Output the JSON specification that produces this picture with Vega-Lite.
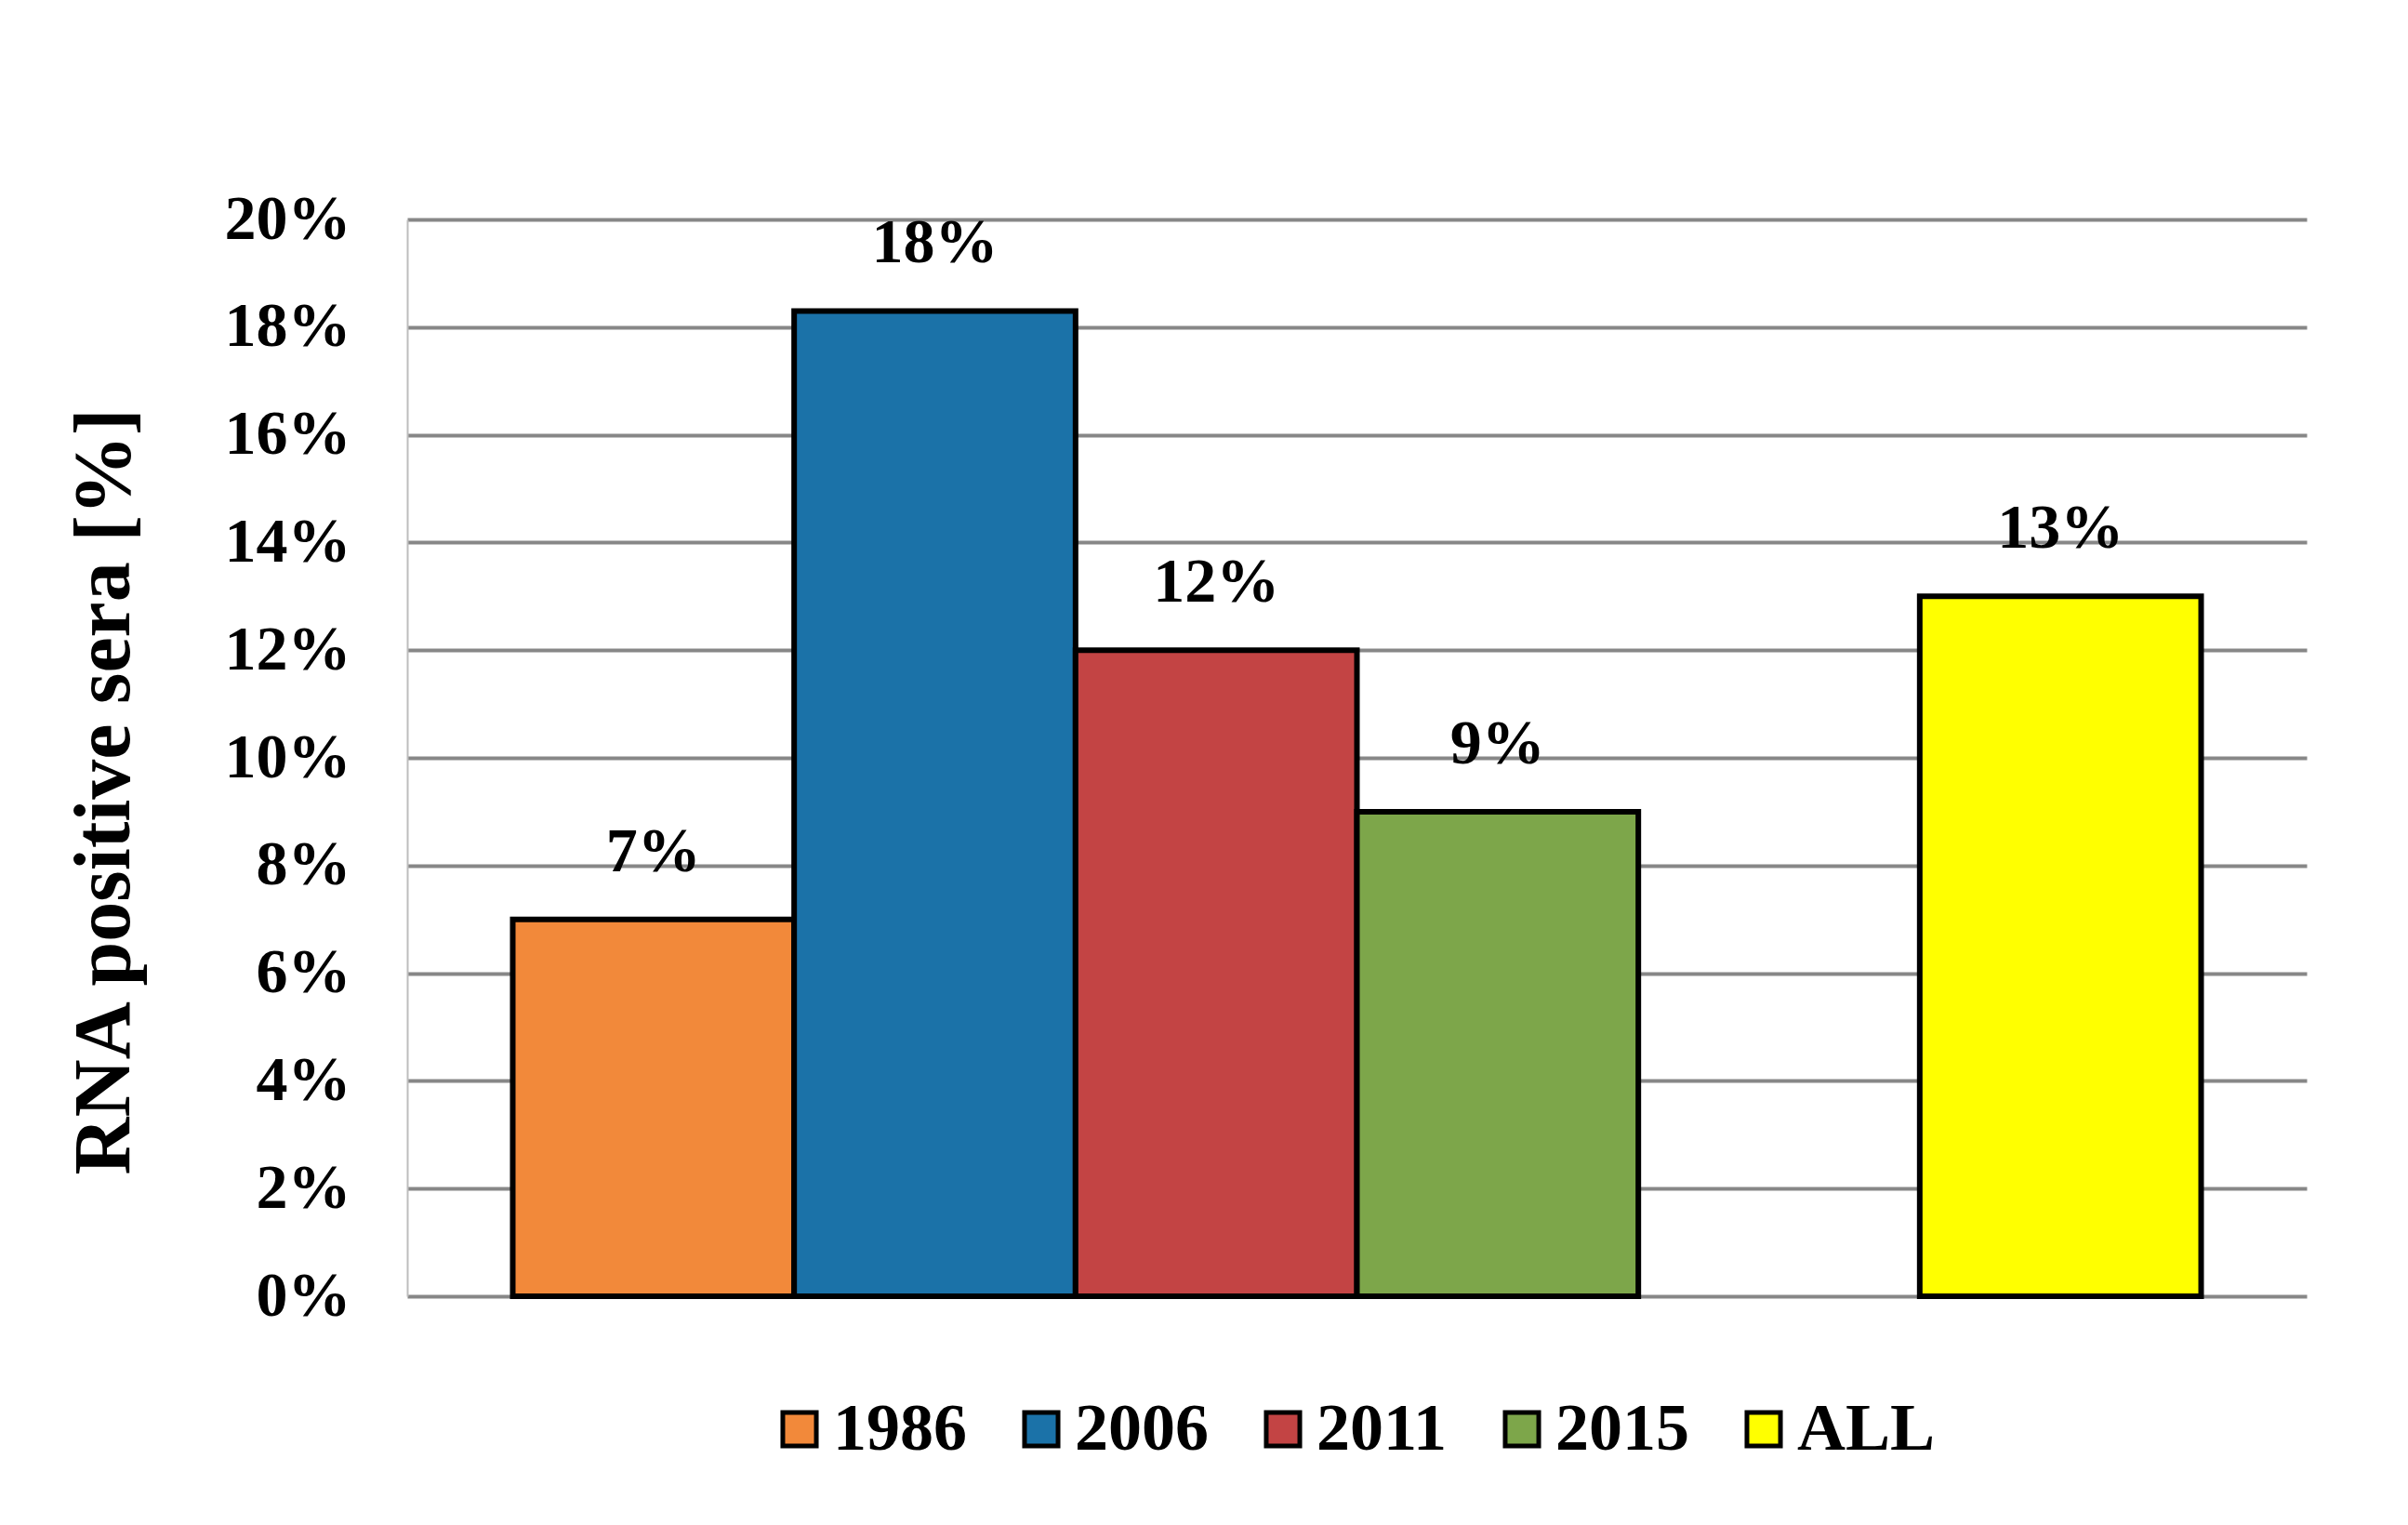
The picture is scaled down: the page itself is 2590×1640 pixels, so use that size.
{
  "$schema": "https://vega.github.io/schema/vega-lite/v6.json",
  "width": 2043,
  "height": 1158,
  "autosize": {"type": "none"},
  "padding": {"left": 438, "top": 236, "right": 109, "bottom": 246},
  "background": "white",
  "config": {"view": {"stroke": null}},
  "data": {
    "values": [
      {"year": "1986", "share": 0.07},
      {"year": "2006", "share": 0.183},
      {"year": "2011", "share": 0.12},
      {"year": "2015", "share": 0.09},
      {"year": "ALL", "share": 0.13}
    ]
  },
  "encoding": {
    "x": {
      "field": "year",
      "type": "nominal",
      "scale": {"domain": ["1986", "2006", "2011", "2015", " ", "ALL"], "paddingInner": 0, "paddingOuter": 0.375},
      "axis": null
    },
    "y": {
      "field": "share",
      "type": "quantitative",
      "scale": {"domain": [0, 0.2], "nice": false},
      "axis": {
        "title": "RNA positive sera [%]",
        "titleFont": "Liberation Serif",
        "titleFontSize": 86,
        "titleFontWeight": "bold",
        "titleColor": "black",
        "titleAngle": -90,
        "titleX": -326,
        "titleY": 615,
        "titleAlign": "center",
        "titleBaseline": "middle",
        "labelFont": "Liberation Serif",
        "labelFontSize": 68,
        "labelFontWeight": "bold",
        "labelColor": "black",
        "labelPadding": 61,
        "ticks": false,
        "values": [0, 0.02, 0.04, 0.06, 0.08, 0.1, 0.12, 0.14, 0.16, 0.18, 0.2],
        "format": ".0%",
        "grid": true,
        "gridColor": "#878787",
        "gridWidth": 4,
        "domainColor": "#bdbdbd",
        "domainWidth": 2
      }
    }
  },
  "layer": [
    {
      "mark": {"type": "bar", "stroke": "black", "strokeWidth": 6},
      "encoding": {
        "color": {
          "field": "year",
          "type": "nominal",
          "scale": {
            "domain": ["1986", "2006", "2011", "2015", "ALL"],
            "range": ["#F2893A", "#1B72A8", "#C34444", "#7DA64A", "#FFFF00"]
          },
          "legend": {
            "orient": "none",
            "legendX": 386,
            "legendY": 1265,
            "direction": "horizontal",
            "title": null,
            "symbolType": "square",
            "symbolSize": 1300,
            "symbolStrokeColor": "black",
            "symbolStrokeWidth": 5,
            "symbolOpacity": 1,
            "labelFont": "Liberation Serif",
            "labelFontSize": 72,
            "labelFontWeight": "bold",
            "labelColor": "black",
            "labelOffset": 0,
            "columnPadding": 44
          }
        }
      }
    },
    {
      "mark": {
        "type": "text",
        "dy": -72,
        "font": "Liberation Serif",
        "fontSize": 68,
        "fontWeight": "bold",
        "baseline": "middle",
        "color": "black"
      },
      "encoding": {
        "text": {"field": "share", "type": "quantitative", "format": ".0%"}
      }
    }
  ]
}
